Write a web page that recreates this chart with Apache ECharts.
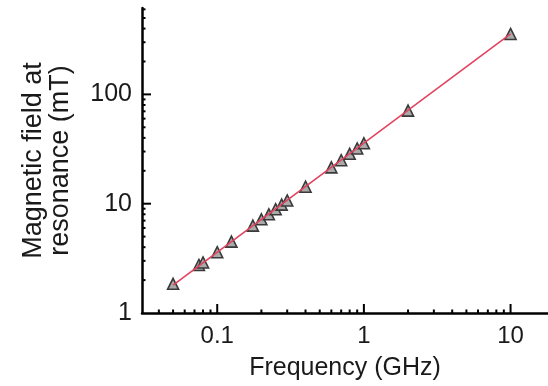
<!DOCTYPE html>
<html>
<head>
<meta charset="utf-8">
<script src="https://cdn.jsdelivr.net/npm/echarts@6/dist/echarts.min.js"></script>
<style>
html,body{margin:0;padding:0;background:#fff;}
#chart{width:548px;height:386px;}
</style>
</head>
<body>
<div id="chart"></div>
<script>
// Data
const frequencyGHz = [0.05, 0.075, 0.08, 0.1, 0.125, 0.175, 0.2, 0.225, 0.25, 0.275, 0.3, 0.4, 0.6, 0.7, 0.8, 0.9, 1.0, 2.0, 10];
const fieldMT      = [1.85, 2.75, 2.9, 3.6, 4.5, 6.3, 7.2, 8.0, 8.9, 9.8, 10.7, 14.3, 21.5, 25, 28.6, 32, 35.7, 71, 357];
const fitFreq = [0.05, 10];
const fitField = [1.8, 357];
// Axis ranges and ticks
const xRange = [0.0307, 18];
const yRange = [1, 617];
const xMajorTicks = [0.1, 1, 10];
const xMinorTicks = [0.04,0.05,0.06,0.07,0.08,0.09,0.2,0.3,0.4,0.5,0.6,0.7,0.8,0.9,2,3,4,5,6,7,8,9];
const yMajorTicks = [10, 100];
const yMinorTicks = [2,3,4,5,6,7,8,9,20,30,40,50,60,70,80,90,200,300,400,500,600];

const FONT = 'Liberation Sans';
const MAJOR_LEN = 9, MINOR_LEN = 3.5;

const chart = echarts.init(document.getElementById('chart'), null, {renderer:'canvas'});

function tickRenderer(dir){
  return function(params, api){
    const p = api.coord([api.value(0), api.value(1)]);
    const len = api.value(2);
    const shape = dir === 'x'
      ? {x1:p[0], y1:p[1], x2:p[0], y2:p[1]-len}
      : {x1:p[0], y1:p[1], x2:p[0]+len, y2:p[1]};
    return {type:'line', shape, style:{stroke:'#000', lineWidth:2}};
  };
}
const xTickData = xMajorTicks.map(v=>[v, yRange[0], MAJOR_LEN]).concat(xMinorTicks.map(v=>[v, yRange[0], MINOR_LEN]));
const yTickData = yMajorTicks.map(v=>[xRange[0], v, MAJOR_LEN]).concat(yMinorTicks.map(v=>[xRange[0], v, MINOR_LEN]));

chart.setOption({
  animation:false,
  backgroundColor:'#fff',
  grid:{left:142, right:0, top:8, bottom:73, containLabel:false},
  xAxis:{
    type:'log', logBase:10, min:xRange[0], max:xRange[1],
    name:'Frequency (GHz)', nameLocation:'middle', nameGap:43,
    nameTextStyle:{fontFamily:FONT, fontSize:25, color:'#1a1a1a'},
    axisLine:{show:true, lineStyle:{color:'#000', width:2.5}},
    axisTick:{show:false},
    splitLine:{show:false},
    minorTick:{show:false},
    axisLabel:{fontFamily:FONT, fontSize:24, color:'#1a1a1a', margin:11, showMinLabel:false, showMaxLabel:false}
  },
  yAxis:{
    type:'log', logBase:10, min:yRange[0], max:yRange[1],
    name:'Magnetic field at\nresonance (mT)', nameLocation:'middle', nameGap:68, nameRotate:90,
    nameTextStyle:{fontFamily:FONT, fontSize:27, color:'#1a1a1a', lineHeight:27, align:'center'},
    axisLine:{show:true, lineStyle:{color:'#000', width:2.5}},
    axisTick:{show:false},
    splitLine:{show:false},
    axisLabel:{fontFamily:FONT, fontSize:25, color:'#1a1a1a', margin:10, showMaxLabel:false}
  },
  series:[
    {type:'custom', name:'xticks', renderItem:tickRenderer('x'), data:xTickData, silent:true, z:5},
    {type:'custom', name:'yticks', renderItem:tickRenderer('y'), data:yTickData, silent:true, z:5},
    {type:'scatter', name:'data', data:frequencyGHz.map((f,i)=>[f, fieldMT[i]]),
      symbol:'triangle', symbolSize:11,
      itemStyle:{color:'#a9a9a9', borderColor:'#3a3a3a', borderWidth:1.6, opacity:1}, z:2},
    {type:'line', name:'fit', data:fitFreq.map((f,i)=>[f, fitField[i]]),
      showSymbol:false, symbol:'none', lineStyle:{color:'#e2435e', width:1.6}, z:3}
  ]
});
</script>
</body>
</html>
